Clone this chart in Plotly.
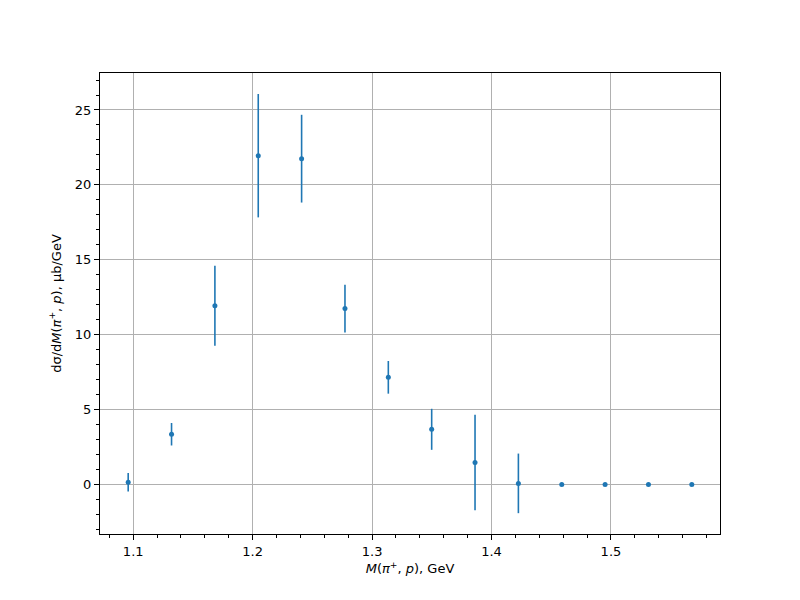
import plotly.graph_objects as go

mass = [1.0958, 1.1321, 1.1684, 1.2047, 1.2410, 1.2773, 1.3136,
        1.3499, 1.3862, 1.4225, 1.4588, 1.4951, 1.5314, 1.5677]
xsec = [0.15, 3.35, 11.93, 21.95, 21.75, 11.74, 7.15,
        3.68, 1.47, 0.07, 0.0, 0.0, 0.0, 0.0]
xsec_err = [0.62, 0.75, 2.67, 4.12, 2.93, 1.59, 1.09,
            1.37, 3.19, 1.99, 0.0, 0.0, 0.0, 0.0]

x_ticks = [1.1, 1.2, 1.3, 1.4, 1.5]
y_ticks = [0, 5, 10, 15, 20, 25]

blue = "#1f77b4"

fig = go.Figure()
fig.add_trace(go.Scatter(
    x=mass, y=xsec, mode="markers",
    marker=dict(color=blue, size=5),
    error_y=dict(type="data", array=xsec_err, visible=True,
                 color=blue, thickness=1.6, width=0),
    showlegend=False,
))

axis_common = dict(
    showline=True, linecolor="black", linewidth=1, mirror=True,
    showgrid=True, gridcolor="#b0b0b0", gridwidth=1,
    zeroline=False, ticks="outside", ticklen=5, tickwidth=1, tickcolor="black",
    tickfont=dict(family="DejaVu Sans", size=13, color="black"),
)

fig.update_layout(
    width=800, height=600,
    margin=dict(l=92, r=88, t=65, b=74),
    paper_bgcolor="white", plot_bgcolor="white",
    font=dict(family="DejaVu Sans", size=13, color="black"),
    xaxis=dict(
        **axis_common,
        range=[1.0722, 1.5913],
        tickvals=x_ticks, ticktext=[f"{v:.1f}" for v in x_ticks],
        minor=dict(dtick=0.02, tick0=1.0, ticks="outside", ticklen=3,
                   tickcolor="black", showgrid=False),
        title=dict(text="<i>M</i>(<i>π</i><sup>+</sup>, <i>p</i>), GeV",
                   standoff=6, font=dict(size=13)),
    ),
    yaxis=dict(
        **axis_common,
        range=[-3.31, 27.47],
        tickvals=y_ticks, ticktext=[str(v) for v in y_ticks],
        minor=dict(dtick=1, tick0=0, ticks="outside", ticklen=3,
                   tickcolor="black", showgrid=False),
        title=dict(text="dσ/d<i>M</i>(<i>π</i><sup>+</sup>, <i>p</i>), μb/GeV",
                   standoff=10, font=dict(size=13)),
    ),
)

fig.write_html("out.html")
